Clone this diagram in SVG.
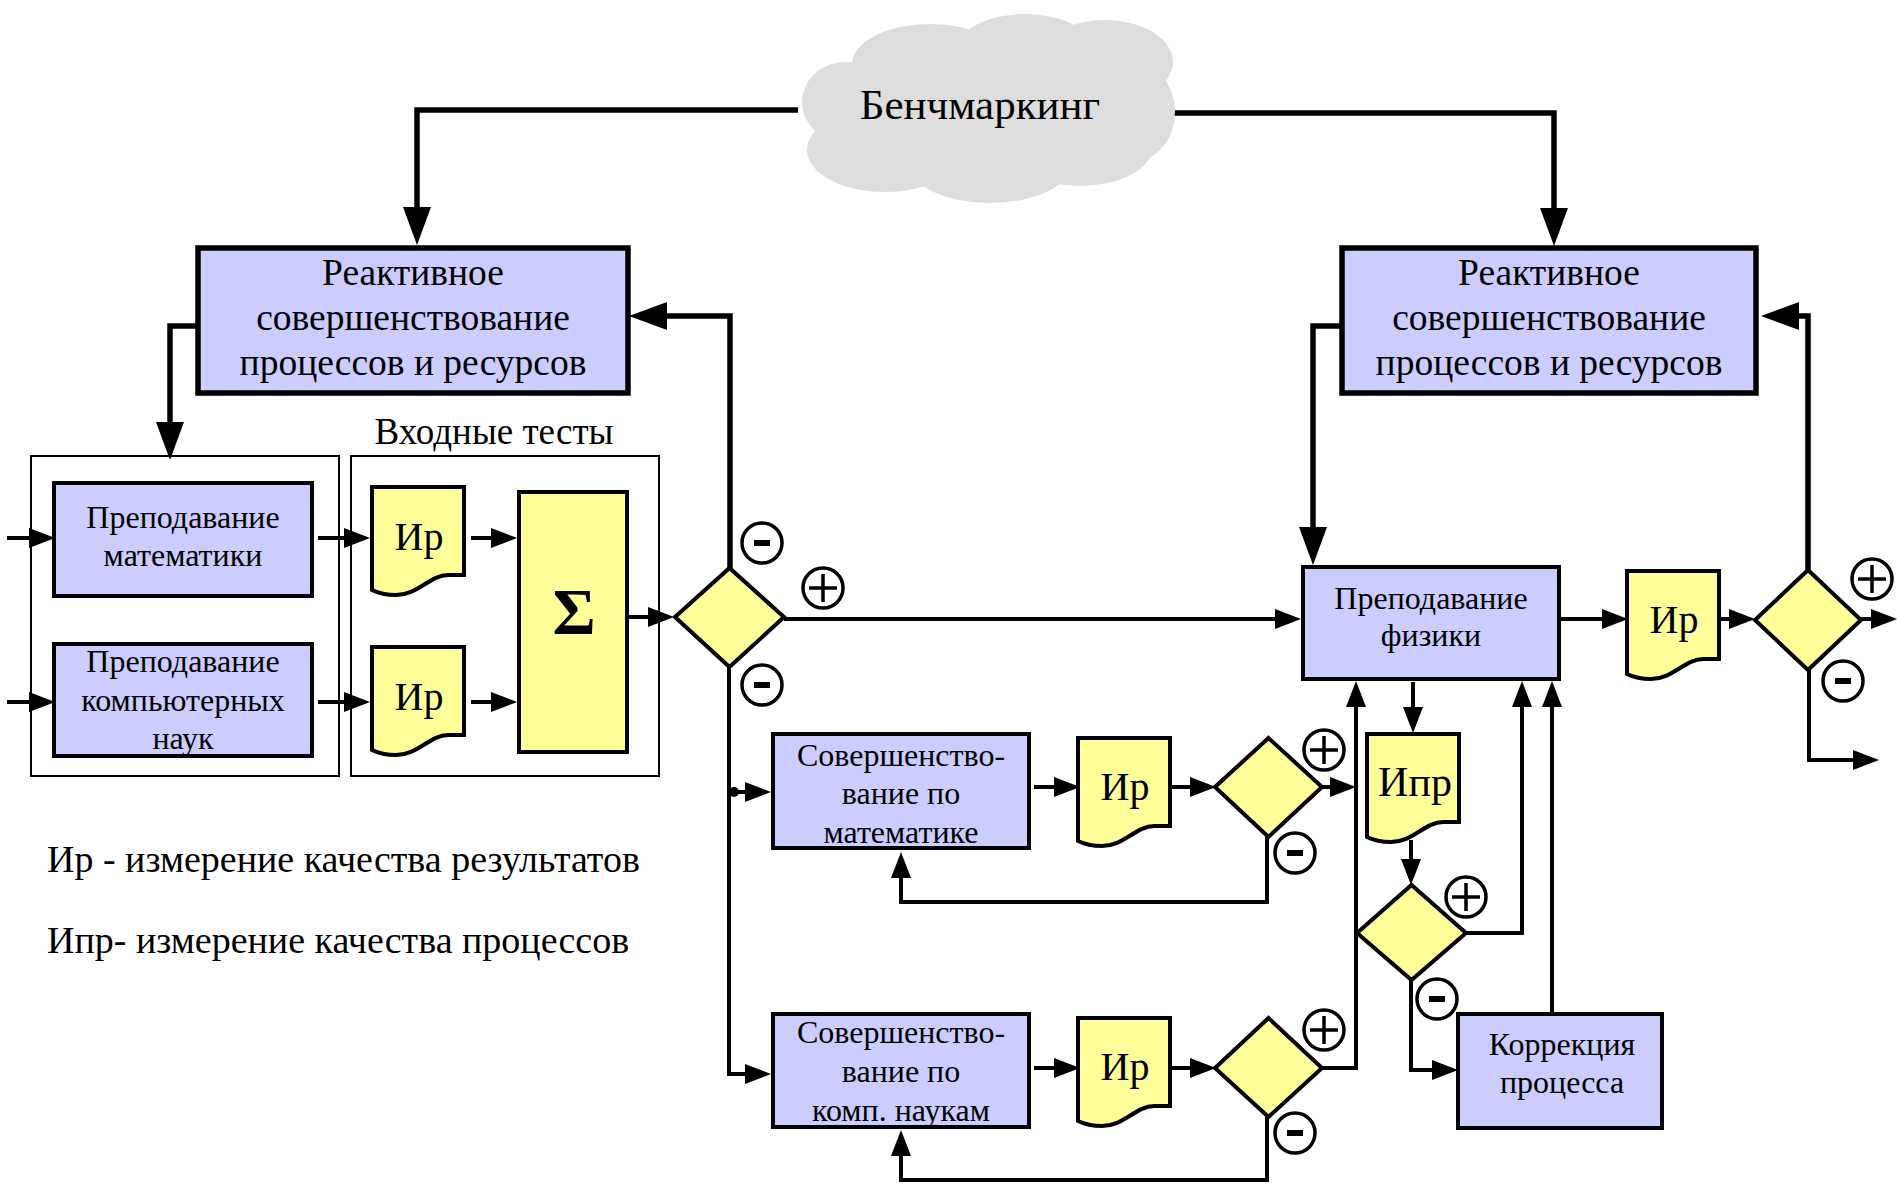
<svg xmlns="http://www.w3.org/2000/svg" width="1897" height="1184" viewBox="0 0 1897 1184">
<style>
text{font-family:"Liberation Serif","Times New Roman",serif;fill:#000}
.big{font-size:37.5px;text-anchor:middle}
.mid{font-size:32px;text-anchor:middle}
.doc{font-size:40px;text-anchor:middle}
.lav{fill:#ccccff;stroke:#000;stroke-width:4}
.lavb{fill:#ccccff;stroke:#000;stroke-width:5.5}
.yel{fill:#ffff99;stroke:#000;stroke-width:4}
.frame{fill:none;stroke:#000;stroke-width:2}
.thick{fill:none;stroke:#000;stroke-width:5.5;marker-end:url(#ab)}
.thin{fill:none;stroke:#000;stroke-width:4;marker-end:url(#as)}
.sign{fill:#fff;stroke:#000;stroke-width:3.5}
</style>
<defs>
<marker id="ab" markerUnits="userSpaceOnUse" viewBox="0 -14 38 28" refX="0" refY="0" markerWidth="38" markerHeight="28" orient="auto"><path d="M0,-14 L38,0 L0,14 Z" fill="#000"/></marker>
<marker id="as" markerUnits="userSpaceOnUse" viewBox="0 -10 26 20" refX="0" refY="0" markerWidth="26" markerHeight="20" orient="auto"><path d="M0,-10 L26,0 L0,10 Z" fill="#000"/></marker>
<path id="docp" d="M0,0 H92 V88 H76 C58,88 46,108 24,108 C14,108 6,106 0,103 Z"/>
<g id="plus"><circle class="sign" r="20"/><path d="M-14,0 H14 M0,-14 V14" stroke="#000" stroke-width="3.5"/></g>
<g id="minus"><circle class="sign" r="20"/><path d="M-8,0 H8" stroke="#000" stroke-width="6"/></g>
</defs>
<rect width="1897" height="1184" fill="#fff"/>

<g id="connectors">
<path class="thick" d="M798,110 H417 V207"/>
<path class="thick" d="M1173,113 H1554 V208"/>
<path class="thick" d="M198,326 H170 V422"/>
<path class="thick" d="M730,568 V316 H667"/>
<path class="thick" d="M1341,326 H1313 V527"/>
<path class="thick" d="M1808,570 V316 H1799"/>
<path class="thin" d="M7,538 H29"/>
<path class="thin" d="M7,702 H29"/>
<path class="thin" d="M318,538 H344"/>
<path class="thin" d="M318,702 H344"/>
<path class="thin" d="M471,538 H491"/>
<path class="thin" d="M471,702 H491"/>
<path class="thin" d="M627,617 H648"/>
<path class="thin" d="M784,619 H1275"/>
<path class="thin" d="M729,667 V1074 H745"/>
<circle cx="734" cy="792" r="5" fill="#000"/>
<path class="thin" d="M734,792 H745"/>
<path class="thin" d="M1034,787 H1054"/>
<path class="thin" d="M1170,787 H1190"/>
<path class="thin" d="M1322,787 H1330"/>
<path class="thin" d="M1267,837 V902 H901 V878"/>
<path class="thin" d="M1034,1068 H1054"/>
<path class="thin" d="M1170,1068 H1190"/>
<path class="thin" d="M1322,1068 H1356 V707"/>
<path class="thin" d="M1267,1117 V1180 H901 V1156"/>
<path class="thin" d="M1413,682 V707"/>
<path class="thin" d="M1411,840 V859"/>
<path class="thin" d="M1466,933 H1522 V707"/>
<path class="thin" d="M1411,980 V1070 H1432"/>
<path class="thin" d="M1552,1014 V707"/>
<path class="thin" d="M1559,619 H1602"/>
<path class="thin" d="M1719,619 H1729"/>
<path class="thin" d="M1861,619 H1871"/>
<path class="thin" d="M1809,670 V760 H1853"/>
</g>

<g id="benchmarking">
<g fill="#dddddd">
<ellipse cx="930" cy="64" rx="78" ry="40"/>
<ellipse cx="1025" cy="50" rx="68" ry="36"/>
<ellipse cx="1105" cy="62" rx="68" ry="42"/>
<ellipse cx="1132" cy="112" rx="43" ry="50"/>
<ellipse cx="1080" cy="148" rx="72" ry="38"/>
<ellipse cx="990" cy="163" rx="82" ry="40"/>
<ellipse cx="885" cy="150" rx="78" ry="42"/>
<ellipse cx="845" cy="102" rx="43" ry="40"/>
<ellipse cx="990" cy="108" rx="150" ry="68"/>
</g>
<text x="980" y="119" font-size="43" text-anchor="middle">Бенчмаркинг</text>
</g>

<g id="reactive-left">
<rect class="lavb" x="198" y="248" width="430" height="145"/>
<text class="big" x="413" y="285">Реактивное</text>
<text class="big" x="413" y="330">совершенствование</text>
<text class="big" x="413" y="375">процессов и ресурсов</text>
</g>
<g id="reactive-right">
<rect class="lavb" x="1342" y="248" width="414" height="145"/>
<text class="big" x="1549" y="285">Реактивное</text>
<text class="big" x="1549" y="330">совершенствование</text>
<text class="big" x="1549" y="375">процессов и ресурсов</text>
</g>

<g id="frame-teaching"><rect class="frame" x="31" y="456" width="308" height="320"/></g>
<g id="frame-tests">
<rect class="frame" x="351" y="456" width="308" height="320"/>
<text x="494" y="444" font-size="37" text-anchor="middle">Входные тесты</text>
</g>

<g id="teach-math">
<rect class="lav" x="54" y="483" width="258" height="113"/>
<text class="mid" x="183" y="528">Преподавание</text>
<text class="mid" x="183" y="566">математики</text>
</g>
<g id="teach-cs">
<rect class="lav" x="54" y="644" width="258" height="112"/>
<text class="mid" x="183" y="672">Преподавание</text>
<text class="mid" x="183" y="711">компьютерных</text>
<text class="mid" x="183" y="749">наук</text>
</g>

<g id="ir-1"><use href="#docp" class="yel" x="372" y="487"/><text class="doc" x="419" y="550">Ир</text></g>
<g id="ir-2"><use href="#docp" class="yel" x="372" y="647"/><text class="doc" x="419" y="710">Ир</text></g>

<g id="sigma">
<rect class="yel" x="519" y="492" width="108" height="260"/>
<text x="574" y="634" font-size="66" font-weight="bold" text-anchor="middle">Σ</text>
</g>

<g id="decision-main">
<path class="yel" d="M675,617 L729.5,568 L784,617 L729.5,667 Z"/>
<use href="#minus" x="762" y="543"/>
<use href="#plus" x="823" y="588"/>
<use href="#minus" x="762" y="685"/>
</g>

<g id="improve-math">
<rect class="lav" x="773" y="734" width="256" height="114"/>
<text class="mid" x="901" y="766">Совершенство-</text>
<text class="mid" x="901" y="804">вание по</text>
<text class="mid" x="901" y="843">математике</text>
</g>
<g id="ir-math"><use href="#docp" class="yel" x="1078" y="738"/><text class="doc" x="1125" y="800">Ир</text></g>
<g id="decision-math">
<path class="yel" d="M1215,787 L1268.5,738 L1322,787 L1268.5,837 Z"/>
<use href="#plus" x="1324" y="750"/>
<use href="#minus" x="1295" y="853"/>
</g>

<g id="improve-cs">
<rect class="lav" x="773" y="1014" width="256" height="113"/>
<text class="mid" x="901" y="1043">Совершенство-</text>
<text class="mid" x="901" y="1082">вание по</text>
<text class="mid" x="901" y="1121">комп. наукам</text>
</g>
<g id="ir-cs"><use href="#docp" class="yel" x="1078" y="1018"/><text class="doc" x="1125" y="1080">Ир</text></g>
<g id="decision-cs">
<path class="yel" d="M1215,1068 L1268.5,1018 L1322,1068 L1268.5,1117 Z"/>
<use href="#plus" x="1324" y="1030"/>
<use href="#minus" x="1295" y="1133"/>
</g>

<g id="teach-physics">
<rect class="lav" x="1303" y="567" width="256" height="112"/>
<text class="mid" x="1431" y="609">Преподавание</text>
<text class="mid" x="1431" y="646">физики</text>
</g>
<g id="ipr"><use href="#docp" class="yel" x="1367" y="734"/><text x="1415" y="796" font-size="42" text-anchor="middle">Ипр</text></g>
<g id="decision-process">
<path class="yel" d="M1357,933 L1411.5,885 L1466,933 L1411.5,980 Z"/>
<use href="#plus" x="1466" y="897"/>
<use href="#minus" x="1437" y="999"/>
</g>
<g id="correction">
<rect class="lav" x="1458" y="1014" width="204" height="114"/>
<text class="mid" x="1562" y="1055">Коррекция</text>
<text class="mid" x="1562" y="1093">процесса</text>
</g>

<g id="ir-physics"><use href="#docp" class="yel" x="1627" y="571"/><text class="doc" x="1674" y="633">Ир</text></g>
<g id="decision-physics">
<path class="yel" d="M1755,620 L1808,570 L1861,620 L1808,670 Z"/>
<use href="#plus" x="1872" y="579"/>
<use href="#minus" x="1843" y="681"/>
</g>

<g id="legend">
<text x="47" y="872" font-size="38">Ир - измерение качества результатов</text>
<text x="47" y="953" font-size="38">Ипр- измерение качества процессов</text>
</g>
</svg>
